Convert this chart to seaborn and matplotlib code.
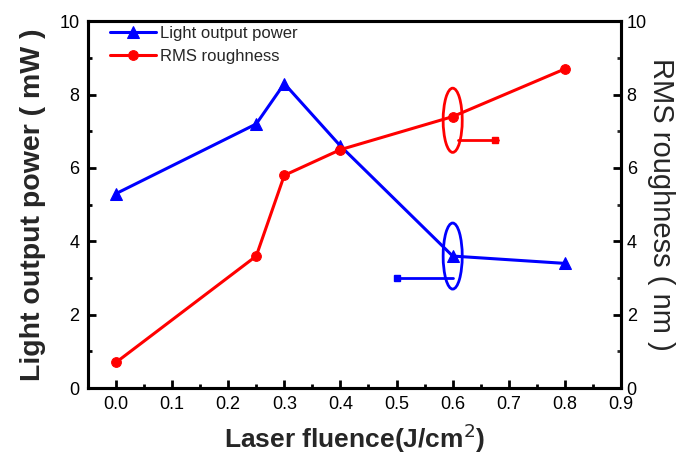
import matplotlib
matplotlib.use("Agg")
import matplotlib.pyplot as plt
import seaborn as sns
import pandas as pd
from matplotlib.patches import Ellipse

sns.set_theme(style="white")
plt.rcParams['font.family'] = ['Liberation Sans', 'DejaVu Sans']

fluence = [0.0, 0.25, 0.3, 0.4, 0.6, 0.8]
power = [5.3, 7.2, 8.3, 6.6, 3.6, 3.4]
rms = [0.7, 3.6, 5.8, 6.5, 7.4, 8.7]
xticks = [0.0, 0.1, 0.2, 0.3, 0.4, 0.5, 0.6, 0.7, 0.8, 0.9]
yticks = [0, 2, 4, 6, 8, 10]

df_p = pd.DataFrame({"x": fluence, "y": power})
df_r = pd.DataFrame({"x": fluence, "y": rms})

fig = plt.figure(figsize=(6.81, 4.61), dpi=100)
ax = fig.add_axes([0.129, 0.158, 0.783, 0.796])
ax2 = ax.twinx()

sns.lineplot(data=df_p, x="x", y="y", ax=ax, color="#0000ff", marker="^",
             markersize=8, markeredgecolor="#0000ff", linewidth=2.2,
             label="Light output power", legend=False)
sns.lineplot(data=df_r, x="x", y="y", ax=ax2, color="#ff0000", marker="o",
             markersize=7, markeredgecolor="#ff0000", linewidth=2.2,
             label="RMS roughness", legend=False)

# annotation ellipses and pointers
ax.add_patch(Ellipse((0.6, 3.6), 0.034, 1.8, fill=False, edgecolor="#0000ff", linewidth=2))
ax.plot([0.5, 0.6], [3.0, 3.0], color="#0000ff", linewidth=2)
ax.plot([0.5], [3.0], marker="s", color="#0000ff", markersize=5)
ax2.add_patch(Ellipse((0.6, 7.3), 0.034, 1.75, fill=False, edgecolor="#ff0000", linewidth=2))
ax2.plot([0.61, 0.68], [6.75, 6.75], color="#ff0000", linewidth=2)
ax2.plot([0.675], [6.75], marker="s", color="#ff0000", markersize=5)

ax.set_xlim(-0.05, 0.9)
ax.set_ylim(0, 10)
ax2.set_ylim(0, 10)
ax.set_xticks(xticks)
ax.set_xticklabels([f"{v:.1f}" for v in xticks])
ax.set_yticks(yticks)
ax2.set_yticks(yticks)
ax.set_xticks([v + 0.05 for v in xticks[:-1]], minor=True)
ax.set_yticks([1, 3, 5, 7, 9], minor=True)
ax2.set_yticks([1, 3, 5, 7, 9], minor=True)

for a in (ax, ax2):
    for s in a.spines.values():
        s.set_color("black")
        s.set_linewidth(2.2)
ax.tick_params(axis="both", which="major", direction="in", length=6, width=2,
               labelsize=13, colors="black", pad=6)
ax.tick_params(axis="both", which="minor", direction="in", length=3, width=2, colors="black")
ax.tick_params(axis="x", top=False, which="both", bottom=True)
ax.tick_params(axis="y", left=True, which="both")
ax2.tick_params(axis="y", which="major", direction="in", length=6, width=2,
                labelsize=13, colors="black", right=True, pad=4)
ax2.tick_params(axis="y", which="minor", direction="in", length=3, width=2, right=True)

ax.set_xlabel("Laser fluence(J/cm$^2$)", fontsize=19, fontweight="bold", labelpad=6)
ax.set_ylabel("Light output power ( mW )", fontsize=20.5, fontweight="bold", labelpad=10)
ax2.set_ylabel("RMS roughness ( nm )", fontsize=21, rotation=270, labelpad=20)

h1, l1 = ax.get_legend_handles_labels()
h2, l2 = ax2.get_legend_handles_labels()
ax.legend(h1 + h2, l1 + l2, loc="upper left", frameon=False, fontsize=12,
          handlelength=2.8, handletextpad=0.2, borderaxespad=0.1,
          bbox_to_anchor=(0.025, 1.01), labelspacing=0.5)

fig.savefig("out.png", dpi=100)
